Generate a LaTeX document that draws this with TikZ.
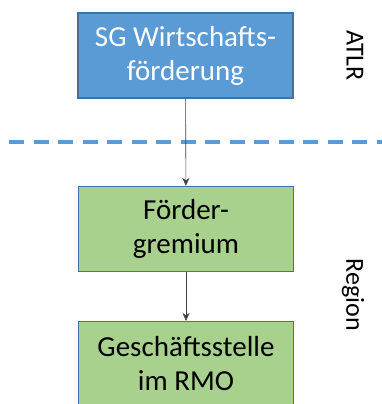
\documentclass[tikz,border=0pt]{standalone}
\usepackage{fontspec}
\setmainfont{Carlito}
\usetikzlibrary{arrows.meta,positioning}
\definecolor{sgblue}{HTML}{5B9BD5}
\definecolor{sgline}{HTML}{41719C}
\definecolor{regiongreen}{HTML}{A9D18E}

\begin{document}
\begin{tikzpicture}[
    x=1pt, y=1pt,
    box/.style={rectangle, draw=sgline, line width=1.2pt, minimum width=215pt, minimum height=85pt,
        align=center, font=\fontsize{29}{34}\selectfont, inner sep=0pt},
    atlr/.style={box, fill=sgblue, text=white},
    region/.style={box, fill=regiongreen, text=black},
    side/.style={rotate=-90, font=\fontsize{26}{30}\selectfont, inner sep=0pt},
    link/.style={draw=black!75, line width=0.6pt, -{Stealth[length=8pt,width=7pt]}}
]
\useasboundingbox (0,0) rectangle (382,-404);

% ATLR level
\node[atlr] (sgwf) at (185.5,-55.5) {SG Wirtschafts-\\förderung};

% border between the levels
\draw[sgblue, line width=3.5pt, dash pattern=on 15pt off 9.5pt] (9,-142) -- (382,-142);

% Region level
\node[region] (gremium) at (186,-229) {Förder-\\gremium};
\node[region] (rmo) at (186,-364) {Geschäftsstelle\\im RMO};

\draw[link] (sgwf) -- (gremium);
\draw[link] (gremium) -- (rmo);

% level labels
\node[side] (lblatlr) at (355,-55.5) {ATLR};
\node[side] (lblregion) at (353,-295) {Region};

\end{tikzpicture}
\end{document}
